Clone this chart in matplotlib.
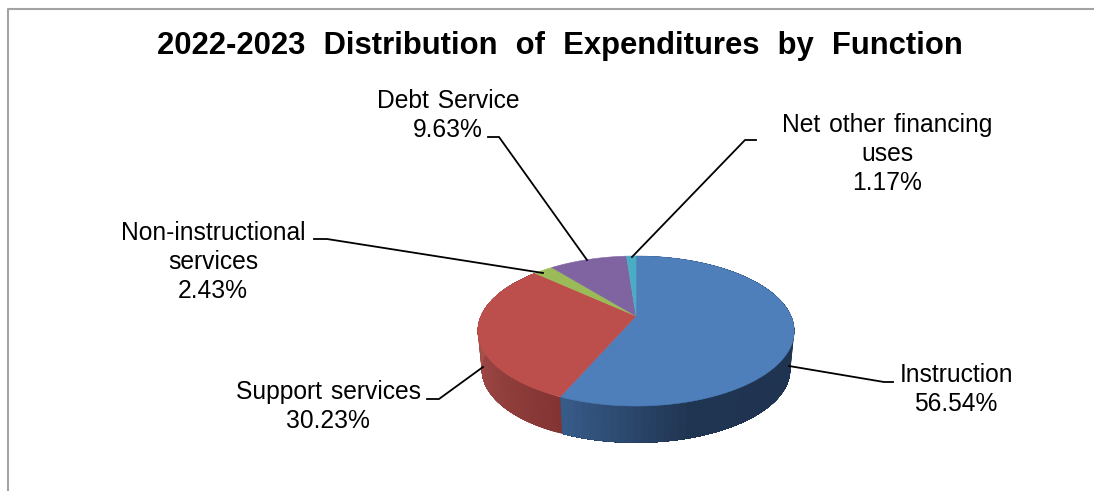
import numpy as np
import matplotlib
matplotlib.use("Agg")
import matplotlib.pyplot as plt

# ---- data ----
title = "2022-2023\u2002\u200aDistribution\u2002\u200aof\u2002\u200aExpenditures\u2002\u200aby\u2002\u200aFunction"
categories = ["Instruction", "Support services", "Non-instructional services", "Debt Service", "Net other financing uses"]
values = [56.54, 30.23, 2.43, 9.63, 1.17]
label_lines = [
    ["Instruction"],
    ["Support\u200a services"],
    ["Non-instructional", "services"],
    ["Debt\u200a Service"],
    ["Net\u200a other\u200a financing", "uses"],
]

# ---- style / layout ----
top_colors = ["#4e7fba", "#bc4f4b", "#9bbb59", "#8064a2", "#4bacc6"]
side_stops = {0: [(0.0, "#1f3350"), (0.65, "#203551"), (1.0, "#385c8b")],
              1: [(0.0, "#823433"), (1.0, "#aa514d")]}
label_x = [956, 328, 213, 448, 887]
label_y = [382, 399, 240, 108, 132]
line_step = 29
leaders = [
    [(789, 366), (884, 382), (893, 382)],
    [(483, 367), (439, 399), (427, 399)],
    [(543, 273), (327, 239), (314, 239)],
    [(587, 260), (499, 137), (488, 137)],
    [(632, 257), (745, 140), (756, 140)],
]
FONT = "Liberation Sans"

fig = plt.figure(figsize=(10.94, 4.91), dpi=100, facecolor="white")
ax = fig.add_axes([0, 0, 1, 1])
ax.set_xlim(0, 1094)
ax.set_ylim(491, 0)
ax.axis("off")

# chart frame (open on the right and bottom, as cropped)
ax.plot([7.5, 7.5, 1094], [491, 8.5, 8.5], color="#a3a3a3", lw=1.5, solid_capstyle="butt", zorder=1)


def project(theta, scale=1.0, cy=316.0):
    """Perspective projection of the pie's unit circle; theta clockwise from 12 o'clock."""
    u, v = np.sin(theta), np.cos(theta)
    d = 1 + 0.2 * v
    return 636 + scale * 155 * u / d, cy - scale * 72 * v / d


def hex2rgb(h):
    return np.array(matplotlib.colors.to_rgb(h))


def side_color(i, t):
    st = side_stops[i]
    xs = [s[0] for s in st]
    cs = np.array([hex2rgb(s[1]) for s in st])
    return tuple(np.interp(t, xs, cs[:, k]) for k in range(3))


fractions = np.array(values) / sum(values)
edges = np.concatenate([[0], np.cumsum(fractions)]) * 2 * np.pi

# side wall of the two front wedges: each strip runs to the wedge's far end,
# the next one paints over it, so no seams appear
for i in (0, 1):
    a0, a1 = edges[i], edges[i + 1]
    ts = np.linspace(a0, a1, 90)
    for j in range(len(ts) - 1):
        rest = ts[j:]
        x_t, y_t = project(rest)
        x_b, y_b = project(rest, 0.975, 355.0)
        mid = 0.5 * (ts[j] + ts[j + 1])
        if i == 0:
            t = np.clip((mid - np.pi / 2) / (a1 - np.pi / 2), 0, 1)
        else:
            t = np.clip((mid - a0) / (1.5 * np.pi - a0), 0, 1)
        c = side_color(i, t)
        ax.fill(np.r_[x_t, x_b[::-1]], np.r_[y_t, y_b[::-1]], facecolor=c, edgecolor="none", zorder=2 + i * 0.1)

# top face
for i, col in enumerate(top_colors):
    ts = np.linspace(edges[i], edges[i + 1], 200)
    xs, ys = project(ts)
    ax.fill(np.r_[636, xs], np.r_[316, ys], facecolor=col, edgecolor=col, lw=0.4, zorder=3)

# leader lines
for pts in leaders:
    xs, ys = zip(*pts)
    ax.plot(xs, ys, color="black", lw=1.3, solid_joinstyle="miter", zorder=4)

# labels
for i, lines in enumerate(label_lines):
    rows = lines + [f"{values[i]:.2f}%"]
    for k, row in enumerate(rows):
        ax.text(label_x[i], label_y[i] + k * line_step, row, ha="center", va="baseline",
                fontsize=17.7, family=FONT, color="black", zorder=5)

ax.text(560, 54, title, ha="center", va="baseline", fontsize=22.3, fontweight="bold",
        family=FONT, color="black", zorder=5)

fig.savefig("out.png", dpi=100, facecolor="white")
